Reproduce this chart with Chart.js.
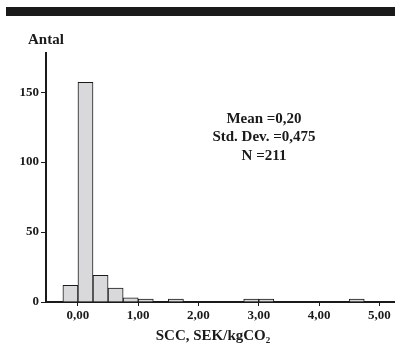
<!DOCTYPE html>
<html>
<head>
<meta charset="utf-8">
<script src="https://cdn.jsdelivr.net/npm/chart.js@4/dist/chart.umd.min.js"></script>
<style>
  html, body { margin: 0; padding: 0; background: #fff; }
  #wrap { width: 395px; height: 347px; position: relative; }
</style>
</head>
<body>
<div id="wrap"><canvas id="myChart"></canvas></div>
<script>
// bin centres (width 0,25) and counts
const binCenters = [-0.125, 0.125, 0.375, 0.625, 0.875, 1.125, 1.375, 1.625, 1.875, 2.125,
                    2.375, 2.625, 2.875, 3.125, 3.375, 3.625, 3.875, 4.125, 4.375, 4.625];
const counts = [12, 157, 19, 10, 3, 2, 0, 2, 0, 0,
                0, 0, 2, 2, 0, 0, 0, 0, 0, 2];
const xTicks = [0, 1, 2, 3, 4, 5];
const yTicks = [0, 50, 100, 150];
const statLines = ['Mean =0,20', 'Std. Dev. =0,475', 'N =211'];
const yTitle = 'Antal';
const xTitle = 'SCC, SEK/kgCO\u2082';

const serif = '"Liberation Serif", "DejaVu Serif", serif';

const extras = {
    id: 'extras',
    afterDraw(chart) {
        const c = chart.ctx;
        c.save();
        // black band at the top
        c.fillStyle = '#1a1a1a';
        c.fillRect(6, 7, 389, 9);

        c.font = 'bold 15px ' + serif;
        c.textAlign = 'left';
        c.fillText(yTitle, 28, 44);

        c.textAlign = 'center';
        c.fillText(xTitle, 213, 340);

        const ys = [123, 141, 160];
        statLines.forEach((t, i) => c.fillText(t, 264, ys[i]));
        c.restore();
    }
};

const ctx = document.getElementById('myChart').getContext('2d');
const myChart = new Chart(ctx, {
    type: 'bar',
    data: {
        datasets: [{
            data: binCenters.map((x, i) => ({ x: x, y: counts[i] })),
            backgroundColor: '#d9d9db',
            borderColor: '#1a1a1a',
            borderWidth: 1,
            borderSkipped: 'bottom',
            barPercentage: 1,
            categoryPercentage: 1
        }]
    },
    options: {
        responsive: true,
        maintainAspectRatio: false,
        animation: false,
        layout: { padding: { top: 53, left: 0, right: 0, bottom: 0 } },
        plugins: { legend: { display: false }, tooltip: { enabled: false } },
        scales: {
            x: {
                type: 'linear',
                offset: false,
                min: -0.53,
                max: 5.26,
                afterFit: s => { s.height = 45; },
                afterBuildTicks: s => { s.ticks = xTicks.map(v => ({ value: v })); },
                border: { display: true, color: '#1a1a1a', width: 2 },
                grid: { offset: false, drawOnChartArea: false, drawTicks: true, tickLength: 4, color: '#1a1a1a', lineWidth: 1 },
                ticks: {
                    color: '#1a1a1a',
                    padding: 2,
                    maxRotation: 0,
                    font: { family: serif, size: 13, weight: 'bold' },
                    callback: v => v.toFixed(2).replace('.', ',')
                }
            },
            y: {
                min: 0,
                max: 178,
                afterFit: s => { s.width = 46; },
                afterBuildTicks: s => { s.ticks = yTicks.map(v => ({ value: v })); },
                border: { display: true, color: '#1a1a1a', width: 2 },
                grid: { drawOnChartArea: false, drawTicks: true, tickLength: 5, color: '#1a1a1a', lineWidth: 1 },
                ticks: {
                    color: '#1a1a1a',
                    padding: 2,
                    font: { family: serif, size: 13, weight: 'bold' }
                }
            }
        }
    },
    plugins: [extras]
});
</script>
</body>
</html>
